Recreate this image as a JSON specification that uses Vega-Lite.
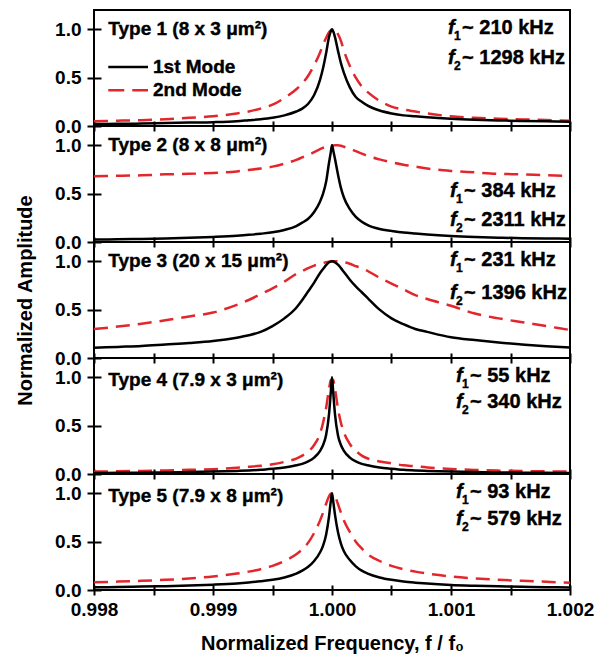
{
"$schema": "https://vega.github.io/schema/vega-lite/v6.json",
"padding": {"left": 14, "top": 9, "right": 5, "bottom": 2},
"bounds": "flush",
"spacing": 0,
"config": {
  "view": {"stroke": "black", "strokeWidth": 2},
  "font": "Liberation Sans",
  "axis": {"domain": false, "grid": false, "tickColor": "black", "tickWidth": 2, "labelFont": "Liberation Sans", "labelFontWeight": "bold", "labelFontSize": 19, "labelColor": "black", "titleFont": "Liberation Sans", "titleFontWeight": "bold", "titleFontSize": 20, "titleColor": "black", "labelOverlap": false, "labelFlush": false},
  "axisX": {"tickSize": 10, "offset": -5, "labelPadding": 5, "titlePadding": 14},
  "axisY": {"tickSize": 14, "offset": -7, "labelPadding": 6, "titlePadding": 19},
  "text": {"font": "Liberation Sans", "fontWeight": "bold", "fontSize": 19, "align": "left", "baseline": "middle", "color": "black", "stroke": "black", "strokeWidth": 0.4}
},
"data": {"values": [
{"f":0.998,"p1a":0.02,"p1b":0.05,"p2a":0.025,"p2b":0.68,"p3a":0.105,"p3b":0.30,"p4a":0.01,"p4b":0.025,"p5a":0.028,"p5b":0.08},
{"f":0.9982,"p1a":0.022,"p1b":0.055,"p2a":0.028,"p2b":0.685,"p3a":0.115,"p3b":0.325,"p4a":0.012,"p4b":0.028,"p5a":0.031,"p5b":0.087},
{"f":0.9984,"p1a":0.025,"p1b":0.06,"p2a":0.032,"p2b":0.69,"p3a":0.125,"p3b":0.355,"p4a":0.014,"p4b":0.032,"p5a":0.035,"p5b":0.095},
{"f":0.9986,"p1a":0.03,"p1b":0.07,"p2a":0.037,"p2b":0.70,"p3a":0.14,"p3b":0.39,"p4a":0.016,"p4b":0.037,"p5a":0.04,"p5b":0.105},
{"f":0.9988,"p1a":0.035,"p1b":0.085,"p2a":0.044,"p2b":0.705,"p3a":0.155,"p3b":0.43,"p4a":0.02,"p4b":0.043,"p5a":0.046,"p5b":0.12},
{"f":0.999,"p1a":0.04,"p1b":0.1,"p2a":0.053,"p2b":0.715,"p3a":0.175,"p3b":0.47,"p4a":0.025,"p4b":0.05,"p5a":0.055,"p5b":0.14},
{"f":0.9992,"p1a":0.05,"p1b":0.13,"p2a":0.065,"p2b":0.73,"p3a":0.21,"p3b":0.55,"p4a":0.032,"p4b":0.065,"p5a":0.068,"p5b":0.17},
{"f":0.9993,"p1a":0.06,"p1b":0.15,"p2a":0.074,"p2b":0.745,"p3a":0.235,"p3b":0.6,"p4a":0.037,"p4b":0.075,"p5a":0.078,"p5b":0.19},
{"f":0.9994,"p1a":0.07,"p1b":0.18,"p2a":0.086,"p2b":0.76,"p3a":0.27,"p3b":0.66,"p4a":0.044,"p4b":0.085,"p5a":0.09,"p5b":0.215},
{"f":0.9995,"p1a":0.085,"p1b":0.22,"p2a":0.1,"p2b":0.78,"p3a":0.33,"p3b":0.72,"p4a":0.055,"p4b":0.1,"p5a":0.105,"p5b":0.25},
{"f":0.9996,"p1a":0.11,"p1b":0.29,"p2a":0.125,"p2b":0.81,"p3a":0.41,"p3b":0.79,"p4a":0.068,"p4b":0.125,"p5a":0.13,"p5b":0.3},
{"f":0.9997,"p1a":0.15,"p1b":0.38,"p2a":0.165,"p2b":0.85,"p3a":0.52,"p3b":0.87,"p4a":0.09,"p4b":0.16,"p5a":0.17,"p5b":0.37},
{"f":0.99975,"p1a":0.18,"p1b":0.44,"p2a":0.2,"p2b":0.875,"p3a":0.6,"p3b":0.9,"p4a":0.105,"p4b":0.19,"p5a":0.2,"p5b":0.42},
{"f":0.9998,"p1a":0.23,"p1b":0.52,"p2a":0.24,"p2b":0.9,"p3a":0.69,"p3b":0.93,"p4a":0.13,"p4b":0.23,"p5a":0.24,"p5b":0.49},
{"f":0.99985,"p1a":0.32,"p1b":0.63,"p2a":0.31,"p2b":0.93,"p3a":0.78,"p3b":0.955,"p4a":0.17,"p4b":0.3,"p5a":0.3,"p5b":0.59},
{"f":0.9999,"p1a":0.48,"p1b":0.76,"p2a":0.42,"p2b":0.96,"p3a":0.88,"p3b":0.975,"p4a":0.24,"p4b":0.42,"p5a":0.39,"p5b":0.72},
{"f":0.999925,"p1a":0.6,"p1b":0.84,"p2a":0.5,"p2b":0.975,"p3a":0.92,"p3b":0.985,"p4a":0.3,"p4b":0.53,"p5a":0.46,"p5b":0.8},
{"f":0.99995,"p1a":0.75,"p1b":0.91,"p2a":0.62,"p2b":0.985,"p3a":0.96,"p3b":0.99,"p4a":0.4,"p4b":0.68,"p5a":0.57,"p5b":0.89},
{"f":0.999975,"p1a":0.92,"p1b":0.97,"p2a":0.82,"p2b":0.993,"p3a":0.99,"p3b":0.995,"p4a":0.62,"p4b":0.88,"p5a":0.76,"p5b":0.97},
{"f":0.99999,"p1a":0.98,"p1b":0.99,"p2a":0.93,"p2b":0.996,"p3a":0.998,"p3b":0.998,"p4a":0.85,"p4b":0.97,"p5a":0.92,"p5b":0.995},
{"f":1.0,"p1a":1.0,"p1b":1.0,"p2a":1.0,"p2b":0.998,"p3a":1.0,"p3b":1.0,"p4a":1.0,"p4b":0.98,"p5a":1.0,"p5b":1.0},
{"f":1.00001,"p1a":0.98,"p1b":1.0,"p2a":0.95,"p2b":0.999,"p3a":0.998,"p3b":1.0,"p4a":0.85,"p4b":0.97,"p5a":0.92,"p5b":0.995},
{"f":1.000025,"p1a":0.92,"p1b":0.99,"p2a":0.86,"p2b":1.0,"p3a":0.99,"p3b":1.0,"p4a":0.62,"p4b":0.88,"p5a":0.78,"p5b":0.97},
{"f":1.00005,"p1a":0.78,"p1b":0.95,"p2a":0.7,"p2b":1.0,"p3a":0.965,"p3b":1.0,"p4a":0.4,"p4b":0.68,"p5a":0.6,"p5b":0.89},
{"f":1.000075,"p1a":0.65,"p1b":0.88,"p2a":0.56,"p2b":0.995,"p3a":0.93,"p3b":0.995,"p4a":0.3,"p4b":0.53,"p5a":0.48,"p5b":0.8},
{"f":1.0001,"p1a":0.55,"p1b":0.78,"p2a":0.46,"p2b":0.985,"p3a":0.89,"p3b":0.99,"p4a":0.24,"p4b":0.43,"p5a":0.4,"p5b":0.72},
{"f":1.00015,"p1a":0.4,"p1b":0.62,"p2a":0.34,"p2b":0.965,"p3a":0.81,"p3b":0.975,"p4a":0.17,"p4b":0.31,"p5a":0.31,"p5b":0.6},
{"f":1.0002,"p1a":0.3,"p1b":0.5,"p2a":0.26,"p2b":0.94,"p3a":0.74,"p3b":0.95,"p4a":0.13,"p4b":0.24,"p5a":0.245,"p5b":0.5},
{"f":1.00025,"p1a":0.25,"p1b":0.41,"p2a":0.21,"p2b":0.915,"p3a":0.68,"p3b":0.93,"p4a":0.105,"p4b":0.19,"p5a":0.2,"p5b":0.43},
{"f":1.0003,"p1a":0.21,"p1b":0.35,"p2a":0.175,"p2b":0.89,"p3a":0.62,"p3b":0.9,"p4a":0.09,"p4b":0.16,"p5a":0.17,"p5b":0.37},
{"f":1.0004,"p1a":0.16,"p1b":0.26,"p2a":0.135,"p2b":0.855,"p3a":0.5,"p3b":0.83,"p4a":0.068,"p4b":0.13,"p5a":0.13,"p5b":0.3},
{"f":1.0005,"p1a":0.13,"p1b":0.2,"p2a":0.115,"p2b":0.825,"p3a":0.41,"p3b":0.77,"p4a":0.055,"p4b":0.11,"p5a":0.105,"p5b":0.25},
{"f":1.0006,"p1a":0.11,"p1b":0.17,"p2a":0.098,"p2b":0.8,"p3a":0.35,"p3b":0.71,"p4a":0.044,"p4b":0.09,"p5a":0.088,"p5b":0.215},
{"f":1.0007,"p1a":0.1,"p1b":0.15,"p2a":0.087,"p2b":0.78,"p3a":0.3,"p3b":0.65,"p4a":0.037,"p4b":0.08,"p5a":0.076,"p5b":0.19},
{"f":1.0008,"p1a":0.09,"p1b":0.13,"p2a":0.077,"p2b":0.76,"p3a":0.27,"p3b":0.61,"p4a":0.032,"p4b":0.068,"p5a":0.066,"p5b":0.17},
{"f":1.001,"p1a":0.075,"p1b":0.1,"p2a":0.062,"p2b":0.735,"p3a":0.215,"p3b":0.54,"p4a":0.025,"p4b":0.052,"p5a":0.052,"p5b":0.14},
{"f":1.0012,"p1a":0.065,"p1b":0.085,"p2a":0.052,"p2b":0.72,"p3a":0.185,"p3b":0.46,"p4a":0.02,"p4b":0.042,"p5a":0.044,"p5b":0.12},
{"f":1.0014,"p1a":0.058,"p1b":0.075,"p2a":0.045,"p2b":0.705,"p3a":0.16,"p3b":0.41,"p4a":0.016,"p4b":0.035,"p5a":0.038,"p5b":0.105},
{"f":1.0016,"p1a":0.052,"p1b":0.068,"p2a":0.04,"p2b":0.7,"p3a":0.14,"p3b":0.37,"p4a":0.014,"p4b":0.03,"p5a":0.033,"p5b":0.095},
{"f":1.0018,"p1a":0.048,"p1b":0.062,"p2a":0.037,"p2b":0.69,"p3a":0.122,"p3b":0.33,"p4a":0.012,"p4b":0.027,"p5a":0.029,"p5b":0.085},
{"f":1.002,"p1a":0.045,"p1b":0.055,"p2a":0.034,"p2b":0.685,"p3a":0.108,"p3b":0.29,"p4a":0.01,"p4b":0.025,"p5a":0.026,"p5b":0.075}
]},
"vconcat": [
{"width": 476, "height": 116, "layer": [
  {"mark": {"type": "line", "color": "#e3262b", "strokeWidth": 2.5, "strokeDash": [14, 8], "interpolate": "monotone"},
   "encoding": {"x": {"field": "f", "type": "quantitative", "scale": {"domain": [0.998, 1.002], "nice": false, "zero": false}, "axis": {"values": [0.998, 0.9985, 0.999, 0.9995, 1, 1.0005, 1.001, 1.0015, 1.002], "labels": false, "title": null}},
     "y": {"field": "p1b", "type": "quantitative", "scale": {"domain": [0, 1.2], "nice": false}, "axis": {"values": [0, 0.25, 0.5, 0.75, 1], "labelExpr": "round(datum.value*4) % 2 == 0 ? format(datum.value, '.1f') : ''", "title": null}}}},
  {"mark": {"type": "line", "color": "black", "strokeWidth": 2.5, "interpolate": "monotone"},
   "encoding": {"x": {"field": "f", "type": "quantitative"}, "y": {"field": "p1a", "type": "quantitative", "title": null}}},
  {"data": {"values": [{}]}, "mark": {"type": "text", "text": "Type 1 (8 x 3 μm²)"}, "encoding": {"x": {"datum": 0.99812}, "y": {"datum": 1.0}}},
  {"data": {"values": [{}]}, "mark": {"type": "rule", "color": "black", "strokeWidth": 2.5}, "encoding": {"x": {"datum": 0.99812}, "x2": {"datum": 0.998454}, "y": {"datum": 0.61}}},
  {"data": {"values": [{}]}, "mark": {"type": "rule", "color": "#e3262b", "strokeWidth": 2.5, "strokeDash": [16, 8]}, "encoding": {"x": {"datum": 0.99812}, "x2": {"datum": 0.998454}, "y": {"datum": 0.37}}},
  {"data": {"values": [{}]}, "mark": {"type": "text", "text": "1st Mode"}, "encoding": {"x": {"datum": 0.998496}, "y": {"datum": 0.61}}},
  {"data": {"values": [{}]}, "mark": {"type": "text", "text": "2nd Mode"}, "encoding": {"x": {"datum": 0.998496}, "y": {"datum": 0.37}}},
  {"data": {"values": [{}]}, "mark": {"type": "text", "text": "f", "fontStyle": "italic", "fontSize": 20}, "encoding": {"x": {"datum": 1.000975}, "y": {"datum": 1.01}}},
  {"data": {"values": [{}]}, "mark": {"type": "text", "text": "1", "fontSize": 12, "dx": 6, "dy": 8}, "encoding": {"x": {"datum": 1.000975}, "y": {"datum": 1.01}}},
  {"data": {"values": [{}]}, "mark": {"type": "text", "text": "~ 210 kHz", "fontSize": 20, "dx": 14}, "encoding": {"x": {"datum": 1.000975}, "y": {"datum": 1.01}}},
  {"data": {"values": [{}]}, "mark": {"type": "text", "text": "f", "fontStyle": "italic", "fontSize": 20}, "encoding": {"x": {"datum": 1.000975}, "y": {"datum": 0.70}}},
  {"data": {"values": [{}]}, "mark": {"type": "text", "text": "2", "fontSize": 12, "dx": 6, "dy": 8}, "encoding": {"x": {"datum": 1.000975}, "y": {"datum": 0.70}}},
  {"data": {"values": [{}]}, "mark": {"type": "text", "text": "~ 1298 kHz", "fontSize": 20, "dx": 14}, "encoding": {"x": {"datum": 1.000975}, "y": {"datum": 0.70}}}
]},
{"width": 476, "height": 116, "layer": [
  {"mark": {"type": "line", "color": "#e3262b", "strokeWidth": 2.5, "strokeDash": [14, 8], "interpolate": "monotone"},
   "encoding": {"x": {"field": "f", "type": "quantitative", "scale": {"domain": [0.998, 1.002], "nice": false, "zero": false}, "axis": {"values": [0.998, 0.9985, 0.999, 0.9995, 1, 1.0005, 1.001, 1.0015, 1.002], "labels": false, "title": null}},
     "y": {"field": "p2b", "type": "quantitative", "scale": {"domain": [0, 1.2], "nice": false}, "axis": {"values": [0, 0.25, 0.5, 0.75, 1], "labelExpr": "round(datum.value*4) % 2 == 0 ? format(datum.value, '.1f') : ''", "title": null}}}},
  {"mark": {"type": "line", "color": "black", "strokeWidth": 2.5, "interpolate": "monotone"},
   "encoding": {"x": {"field": "f", "type": "quantitative"}, "y": {"field": "p2a", "type": "quantitative", "title": null}}},
  {"data": {"values": [{}]}, "mark": {"type": "text", "text": "Type 2 (8 x 8 μm²)"}, "encoding": {"x": {"datum": 0.99812}, "y": {"datum": 1.0}}},
  {"data": {"values": [{}]}, "mark": {"type": "text", "text": "f", "fontStyle": "italic", "fontSize": 20}, "encoding": {"x": {"datum": 1.000992}, "y": {"datum": 0.53}}},
  {"data": {"values": [{}]}, "mark": {"type": "text", "text": "1", "fontSize": 12, "dx": 6, "dy": 8}, "encoding": {"x": {"datum": 1.000992}, "y": {"datum": 0.53}}},
  {"data": {"values": [{}]}, "mark": {"type": "text", "text": "~ 384 kHz", "fontSize": 20, "dx": 14}, "encoding": {"x": {"datum": 1.000992}, "y": {"datum": 0.53}}},
  {"data": {"values": [{}]}, "mark": {"type": "text", "text": "f", "fontStyle": "italic", "fontSize": 20}, "encoding": {"x": {"datum": 1.000992}, "y": {"datum": 0.23}}},
  {"data": {"values": [{}]}, "mark": {"type": "text", "text": "2", "fontSize": 12, "dx": 6, "dy": 8}, "encoding": {"x": {"datum": 1.000992}, "y": {"datum": 0.23}}},
  {"data": {"values": [{}]}, "mark": {"type": "text", "text": "~ 2311 kHz", "fontSize": 20, "dx": 14}, "encoding": {"x": {"datum": 1.000992}, "y": {"datum": 0.23}}}
]},
{"width": 476, "height": 116, "layer": [
  {"mark": {"type": "line", "color": "#e3262b", "strokeWidth": 2.5, "strokeDash": [14, 8], "interpolate": "monotone"},
   "encoding": {"x": {"field": "f", "type": "quantitative", "scale": {"domain": [0.998, 1.002], "nice": false, "zero": false}, "axis": {"values": [0.998, 0.9985, 0.999, 0.9995, 1, 1.0005, 1.001, 1.0015, 1.002], "labels": false, "title": null}},
     "y": {"field": "p3b", "type": "quantitative", "scale": {"domain": [0, 1.2], "nice": false}, "axis": {"values": [0, 0.25, 0.5, 0.75, 1], "labelExpr": "round(datum.value*4) % 2 == 0 ? format(datum.value, '.1f') : ''", "title": "Normalized Amplitude"}}}},
  {"mark": {"type": "line", "color": "black", "strokeWidth": 2.5, "interpolate": "monotone"},
   "encoding": {"x": {"field": "f", "type": "quantitative"}, "y": {"field": "p3a", "type": "quantitative", "title": "Normalized Amplitude"}}},
  {"data": {"values": [{}]}, "mark": {"type": "text", "text": "Type 3 (20 x 15 μm²)"}, "encoding": {"x": {"datum": 0.99812}, "y": {"datum": 1.0}}},
  {"data": {"values": [{}]}, "mark": {"type": "text", "text": "f", "fontStyle": "italic", "fontSize": 20}, "encoding": {"x": {"datum": 1.000992}, "y": {"datum": 1.01}}},
  {"data": {"values": [{}]}, "mark": {"type": "text", "text": "1", "fontSize": 12, "dx": 6, "dy": 8}, "encoding": {"x": {"datum": 1.000992}, "y": {"datum": 1.01}}},
  {"data": {"values": [{}]}, "mark": {"type": "text", "text": "~ 231 kHz", "fontSize": 20, "dx": 14}, "encoding": {"x": {"datum": 1.000992}, "y": {"datum": 1.01}}},
  {"data": {"values": [{}]}, "mark": {"type": "text", "text": "f", "fontStyle": "italic", "fontSize": 20}, "encoding": {"x": {"datum": 1.000992}, "y": {"datum": 0.67}}},
  {"data": {"values": [{}]}, "mark": {"type": "text", "text": "2", "fontSize": 12, "dx": 6, "dy": 8}, "encoding": {"x": {"datum": 1.000992}, "y": {"datum": 0.67}}},
  {"data": {"values": [{}]}, "mark": {"type": "text", "text": "~ 1396 kHz", "fontSize": 20, "dx": 14}, "encoding": {"x": {"datum": 1.000992}, "y": {"datum": 0.67}}}
]},
{"width": 476, "height": 116, "layer": [
  {"mark": {"type": "line", "color": "#e3262b", "strokeWidth": 2.5, "strokeDash": [14, 8], "interpolate": "monotone"},
   "encoding": {"x": {"field": "f", "type": "quantitative", "scale": {"domain": [0.998, 1.002], "nice": false, "zero": false}, "axis": {"values": [0.998, 0.9985, 0.999, 0.9995, 1, 1.0005, 1.001, 1.0015, 1.002], "labels": false, "title": null}},
     "y": {"field": "p4b", "type": "quantitative", "scale": {"domain": [0, 1.2], "nice": false}, "axis": {"values": [0, 0.25, 0.5, 0.75, 1], "labelExpr": "round(datum.value*4) % 2 == 0 ? format(datum.value, '.1f') : ''", "title": null}}}},
  {"mark": {"type": "line", "color": "black", "strokeWidth": 2.5, "interpolate": "monotone"},
   "encoding": {"x": {"field": "f", "type": "quantitative"}, "y": {"field": "p4a", "type": "quantitative", "title": null}}},
  {"data": {"values": [{}]}, "mark": {"type": "text", "text": "Type 4 (7.9 x 3 μm²)"}, "encoding": {"x": {"datum": 0.99812}, "y": {"datum": 0.97}}},
  {"data": {"values": [{}]}, "mark": {"type": "text", "text": "f", "fontStyle": "italic", "fontSize": 20}, "encoding": {"x": {"datum": 1.001042}, "y": {"datum": 1.01}}},
  {"data": {"values": [{}]}, "mark": {"type": "text", "text": "1", "fontSize": 12, "dx": 6, "dy": 8}, "encoding": {"x": {"datum": 1.001042}, "y": {"datum": 1.01}}},
  {"data": {"values": [{}]}, "mark": {"type": "text", "text": "~ 55 kHz", "fontSize": 20, "dx": 14}, "encoding": {"x": {"datum": 1.001042}, "y": {"datum": 1.01}}},
  {"data": {"values": [{}]}, "mark": {"type": "text", "text": "f", "fontStyle": "italic", "fontSize": 20}, "encoding": {"x": {"datum": 1.001042}, "y": {"datum": 0.75}}},
  {"data": {"values": [{}]}, "mark": {"type": "text", "text": "2", "fontSize": 12, "dx": 6, "dy": 8}, "encoding": {"x": {"datum": 1.001042}, "y": {"datum": 0.75}}},
  {"data": {"values": [{}]}, "mark": {"type": "text", "text": "~ 340 kHz", "fontSize": 20, "dx": 14}, "encoding": {"x": {"datum": 1.001042}, "y": {"datum": 0.75}}}
]},
{"width": 476, "height": 116, "layer": [
  {"mark": {"type": "line", "color": "#e3262b", "strokeWidth": 2.5, "strokeDash": [14, 8], "interpolate": "monotone"},
   "encoding": {"x": {"field": "f", "type": "quantitative", "scale": {"domain": [0.998, 1.002], "nice": false, "zero": false}, "axis": {"values": [0.998, 0.9985, 0.999, 0.9995, 1, 1.0005, 1.001, 1.0015, 1.002], "labelExpr": "round(datum.value*2000) % 2 == 0 ? format(datum.value, '.3f') : ''", "title": "Normalized Frequency, f / f₀"}},
     "y": {"field": "p5b", "type": "quantitative", "scale": {"domain": [0, 1.2], "nice": false}, "axis": {"values": [0, 0.25, 0.5, 0.75, 1], "labelExpr": "round(datum.value*4) % 2 == 0 ? format(datum.value, '.1f') : ''", "title": null}}}},
  {"mark": {"type": "line", "color": "black", "strokeWidth": 2.5, "interpolate": "monotone"},
   "encoding": {"x": {"field": "f", "type": "quantitative", "title": "Normalized Frequency, f / f₀"}, "y": {"field": "p5a", "type": "quantitative", "title": null}}},
  {"data": {"values": [{}]}, "mark": {"type": "text", "text": "Type 5 (7.9 x 8 μm²)"}, "encoding": {"x": {"datum": 0.99812}, "y": {"datum": 0.97}}},
  {"data": {"values": [{}]}, "mark": {"type": "text", "text": "f", "fontStyle": "italic", "fontSize": 20}, "encoding": {"x": {"datum": 1.001042}, "y": {"datum": 1.01}}},
  {"data": {"values": [{}]}, "mark": {"type": "text", "text": "1", "fontSize": 12, "dx": 6, "dy": 8}, "encoding": {"x": {"datum": 1.001042}, "y": {"datum": 1.01}}},
  {"data": {"values": [{}]}, "mark": {"type": "text", "text": "~ 93 kHz", "fontSize": 20, "dx": 14}, "encoding": {"x": {"datum": 1.001042}, "y": {"datum": 1.01}}},
  {"data": {"values": [{}]}, "mark": {"type": "text", "text": "f", "fontStyle": "italic", "fontSize": 20}, "encoding": {"x": {"datum": 1.001042}, "y": {"datum": 0.73}}},
  {"data": {"values": [{}]}, "mark": {"type": "text", "text": "2", "fontSize": 12, "dx": 6, "dy": 8}, "encoding": {"x": {"datum": 1.001042}, "y": {"datum": 0.73}}},
  {"data": {"values": [{}]}, "mark": {"type": "text", "text": "~ 579 kHz", "fontSize": 20, "dx": 14}, "encoding": {"x": {"datum": 1.001042}, "y": {"datum": 0.73}}}
]}
]
}
